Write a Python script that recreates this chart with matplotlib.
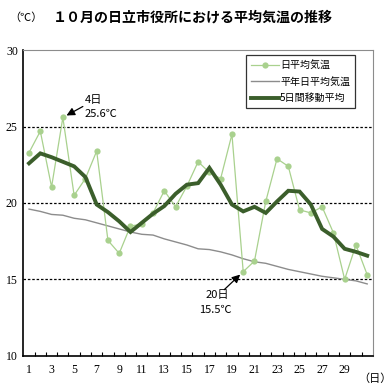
import matplotlib
matplotlib.use('Agg')
import matplotlib.pyplot as plt
import numpy as np

plt.rcParams['font.family'] = ['Noto Sans CJK JP', 'DejaVu Sans']

days = list(range(1, 32))
daily = [23.3, 24.7, 21.05, 25.6, 20.5, 21.6, 23.4, 17.55, 16.7, 18.5,
         18.6, 19.35, 20.8, 19.75, 21.1, 22.7, 22.0, 21.6, 24.5, 15.5,
         16.2, 20.1, 22.9, 22.4, 19.55, 19.35, 19.75, 18.05, 15.0, 17.25, 15.3]
normal = [19.6, 19.45, 19.25, 19.2, 19.0, 18.9, 18.7, 18.5, 18.3, 18.1,
          17.95, 17.9, 17.65, 17.45, 17.25, 17.0, 16.95, 16.8, 16.6, 16.35,
          16.15, 16.05, 15.85, 15.65, 15.5, 15.35, 15.2, 15.1, 15.0, 14.9, 14.7]
moving = [22.6, 23.25, 23.0, 22.7, 22.4, 21.7, 19.9, 19.4, 18.8, 18.1,
          18.7, 19.3, 19.8, 20.6, 21.2, 21.3, 22.3, 21.2, 19.9, 19.45,
          19.75, 19.35, 20.1, 20.8, 20.75, 19.9, 18.3, 17.8, 17.0, 16.8, 16.55]
yticks = [10, 15, 20, 25, 30]
xlabels = list(range(1, 30, 2))

fig = plt.figure(figsize=(3.9, 3.9), dpi=100)
ax = fig.add_axes([0.060, 0.088, 0.896, 0.783])

for v in [15, 20, 25]:
    ax.axhline(v, color='black', lw=0.9, ls=(0, (2.0, 1.5)), zorder=1)

ax.plot(days, daily, color='#a9d18e', lw=0.9, marker='o', ms=4.5,
        markeredgewidth=0, label='日平均気温', zorder=3)
ax.plot(days, normal, color='#8c8c8c', lw=1.0, label='平年日平均気温', zorder=2)
ax.plot(days, moving, color='#3b5e2b', lw=2.8, label='5日間移動平均',
        solid_joinstyle='miter', zorder=4)

ax.set_xlim(0.5, 31.5)
ax.set_ylim(10, 30)
ax.set_yticks(yticks)
ax.set_yticklabels([str(v) for v in yticks], family='Liberation Serif', fontsize=8.5)
ax.set_xticks(xlabels)
ax.set_xticklabels([str(v) for v in xlabels], family='Liberation Serif', fontsize=8.5)
ax.set_xticks(np.arange(1.5, 31, 1), minor=True)
ax.tick_params(axis='x', which='major', length=0, pad=6)
ax.tick_params(axis='x', which='minor', direction='in', length=3, width=0.8)
ax.tick_params(axis='y', length=0, pad=4)

ax.spines['left'].set_color('black')
ax.spines['bottom'].set_color('black')
ax.spines['left'].set_linewidth(1.2)
ax.spines['bottom'].set_linewidth(1.2)
ax.spines['top'].set_color('#8c8c8c')
ax.spines['right'].set_color('#8c8c8c')

leg = ax.legend(loc='upper right', bbox_to_anchor=(0.955, 0.99), fontsize=7.2,
                frameon=True, fancybox=False, edgecolor='black',
                handlelength=2.8, handletextpad=0.1, borderpad=0.5,
                labelspacing=0.65, borderaxespad=0.2)
leg.get_frame().set_linewidth(0.9)

# annotations
ax.annotate('', xy=(4, 25.6), xytext=(20, 11), textcoords='offset pixels',
            arrowprops=dict(arrowstyle='-|>', color='black', lw=0.9,
                            mutation_scale=12, shrinkA=0, shrinkB=3))
ax.annotate('4日', xy=(4, 25.6), xytext=(22, 17), textcoords='offset pixels',
            fontsize=8, va='center', ha='left')
ax.annotate('25.6℃', xy=(4, 25.6), xytext=(22, 3), textcoords='offset pixels',
            fontsize=8, va='center', ha='left')

ax.annotate('', xy=(20, 15.5), xytext=(-19, -18), textcoords='offset pixels',
            arrowprops=dict(arrowstyle='-|>', color='black', lw=0.9,
                            mutation_scale=12, shrinkA=0, shrinkB=3))
ax.annotate('20日', xy=(20, 15.5), xytext=(-38, -23), textcoords='offset pixels',
            fontsize=8, va='center', ha='left')
ax.annotate('15.5℃', xy=(20, 15.5), xytext=(-28, -38), textcoords='offset pixels',
            fontsize=8, va='center', ha='center')

fig.text(0.025, 0.955, '（℃）', fontsize=8, va='center', ha='left')
fig.text(0.135, 0.955, '１０月の日立市役所における平均気温の推移', fontsize=10.1,
         fontweight='bold', va='center', ha='left')
fig.text(0.918, 0.03, '（日）', fontsize=8, va='center', ha='left')

fig.savefig('out.png', dpi=100)
